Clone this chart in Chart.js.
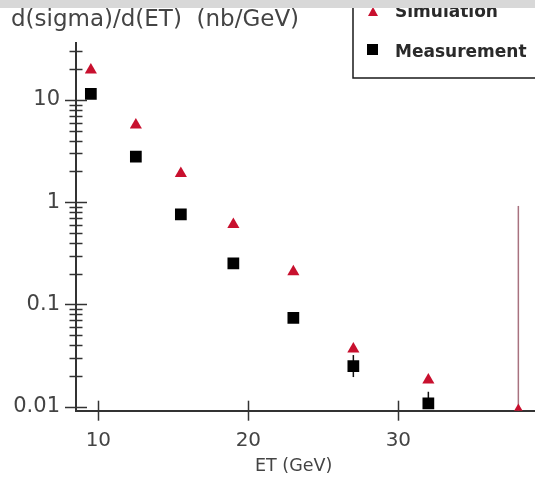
<!DOCTYPE html>
<html>
<head>
<meta charset="utf-8">
<script src="https://cdn.jsdelivr.net/npm/chart.js@4.4.1/dist/chart.umd.min.js"></script>
<style>
  html, body { margin: 0; padding: 0; background: #fff; }
  #wrap { width: 535px; height: 491px; position: relative; }
</style>
</head>
<body>
<div id="wrap"><canvas id="chart"></canvas></div>
<script>
// ET bin centres (GeV)
const etSim = [9.5, 12.5, 15.5, 19, 23, 27, 32, 38];
const etMeas = [9.5, 12.5, 15.5, 19, 23, 27, 32];

// d(sigma)/d(ET)  (nb/GeV)
const simulation = [19.7, 5.7, 1.91, 0.607, 0.209, 0.0366, 0.0182, 0.0092];
const measurement = [11.5, 2.79, 0.76, 0.252, 0.074, 0.0249, 0.0108];

// error bar ends, null = no bar
const simErrHigh = [null, null, null, null, null, null, null, 0.92];
const measErrLow = [null, null, null, null, null, 0.0195, null];
const measErrHigh = [null, null, null, null, null, 0.032, 0.014];

const xTicks = [10, 20, 30];
const yTicks = [0.01, 0.1, 1, 10];

const textColor = '#444';
const axisColor = '#333';
const red = '#c8102e';

// error bars, drawn under the markers
const errorBars = {
    id: 'errorBars',
    beforeDatasetsDraw(chart) {
        const {ctx, scales: {x, y}} = chart;
        const bar = (xs, ys, hi, lo, color) => {
            ctx.strokeStyle = color;
            ctx.lineWidth = 1.5;
            xs.forEach((v, i) => {
                const px = x.getPixelForValue(v);
                const top = hi[i] != null ? y.getPixelForValue(hi[i]) : y.getPixelForValue(ys[i]);
                const bot = lo && lo[i] != null ? y.getPixelForValue(lo[i]) : y.getPixelForValue(ys[i]);
                if (top === bot) return;
                ctx.beginPath();
                ctx.moveTo(px, top);
                ctx.lineTo(px, bot);
                ctx.stroke();
            });
        };
        ctx.save();
        bar(etMeas, measurement, measErrHigh, measErrLow, '#111');
        bar(etSim, simulation, simErrHigh, null, '#a8727f');
        ctx.restore();
    }
};

// tick marks crossing the axes, titles, legend box
const decor = {
    id: 'decor',
    afterDraw(chart) {
        const {ctx, scales: {x, y}, chartArea} = chart;
        const x0 = chartArea.left, y0 = chartArea.bottom;
        ctx.save();
        ctx.strokeStyle = axisColor;
        ctx.lineWidth = 1.5;
        for (let e = -2; e <= 1; e++) {
            for (let m = 1; m <= 9; m++) {
                const v = m * Math.pow(10, e);
                if (v < y.min || v > y.max) continue;
                const py = Math.round(y.getPixelForValue(v)) + 0.5;
                const half = m === 1 ? 11 : 6.5;
                ctx.beginPath();
                ctx.moveTo(x0 - half, py);
                ctx.lineTo(x0 + half, py);
                ctx.stroke();
            }
        }
        xTicks.forEach(v => {
            const px = Math.round(x.getPixelForValue(v)) + 0.5;
            ctx.beginPath();
            ctx.moveTo(px, y0 - 10);
            ctx.lineTo(px, y0 + 10);
            ctx.stroke();
        });

        // y title
        ctx.fillStyle = textColor;
        ctx.font = '23px "DejaVu Sans"';
        ctx.textBaseline = 'alphabetic';
        ctx.textAlign = 'left';
        ctx.fillText('d(sigma)/d(ET)  (nb/GeV)', 11, 26);

        // x title
        ctx.font = '17.5px "DejaVu Sans"';
        ctx.fillText('ET (GeV)', 255, 471);

        // legend
        ctx.strokeStyle = '#1a1a1a';
        ctx.lineWidth = 1.5;
        ctx.beginPath();
        ctx.moveTo(353, 0);
        ctx.lineTo(353, 78);
        ctx.lineTo(540, 78);
        ctx.stroke();
        ctx.fillStyle = red;
        ctx.beginPath();
        ctx.moveTo(373, 7);
        ctx.lineTo(378, 16);
        ctx.lineTo(368, 16);
        ctx.closePath();
        ctx.fill();
        ctx.fillStyle = '#000';
        ctx.fillRect(367, 44, 11, 11);
        ctx.fillStyle = '#2a2a2a';
        ctx.font = 'bold 17px "DejaVu Sans"';
        ctx.fillText('Simulation', 395, 17);
        ctx.fillText('Measurement', 395, 57);

        // grey strip at the very top
        ctx.fillStyle = '#d8d8d8';
        ctx.fillRect(0, 0, 535, 8);
        ctx.restore();
    }
};

new Chart(document.getElementById('chart'), {
    type: 'scatter',
    data: {
        datasets: [{
            label: 'Simulation',
            data: etSim.map((v, i) => ({x: v, y: simulation[i]})),
            pointStyle: 'triangle',
            pointRadius: 7,
            backgroundColor: red,
            borderColor: red,
            borderWidth: 0
        }, {
            label: 'Measurement',
            data: etMeas.map((v, i) => ({x: v, y: measurement[i]})),
            pointStyle: 'rect',
            pointRadius: 8.3,
            backgroundColor: '#000',
            borderColor: '#000',
            borderWidth: 0
        }]
    },
    options: {
        responsive: true,
        maintainAspectRatio: false,
        animation: false,
        layout: {autoPadding: false, padding: {top: 43, left: 0, right: 0, bottom: 0}},
        plugins: {legend: {display: false}, tooltip: {enabled: false}},
        scales: {
            x: {
                type: 'linear',
                min: 8.51,
                max: 39.11,
                afterFit: s => { s.height = 80.3; },
                afterBuildTicks: s => { s.ticks = xTicks.map(v => ({value: v})); },
                grid: {display: false, drawTicks: false},
                border: {display: true, color: axisColor, width: 2},
                ticks: {color: textColor, font: {family: 'DejaVu Sans', size: 20}, padding: 18}
            },
            y: {
                type: 'logarithmic',
                min: 0.00914,
                max: 36.1,
                afterFit: s => { s.width = 76; },
                afterBuildTicks: s => { s.ticks = yTicks.map(v => ({value: v})); },
                grid: {display: false, drawTicks: false},
                border: {display: true, color: axisColor, width: 2},
                ticks: {color: textColor, font: {family: 'DejaVu Sans', size: 21}, padding: 16,
                    callback: v => String(v)}
            }
        }
    },
    plugins: [errorBars, decor]
});
</script>
</body>
</html>
